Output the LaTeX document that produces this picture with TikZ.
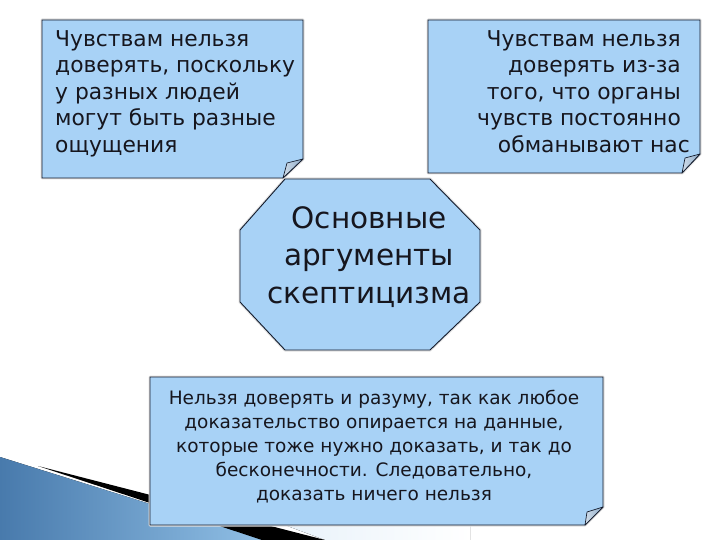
\documentclass[tikz,border=0pt]{standalone}
\usepackage{fontspec}
\setmainfont{DejaVu Sans}
\definecolor{boxblue}{RGB}{168,210,246}
\definecolor{flapblue}{RGB}{140,170,200}
\definecolor{edge}{RGB}{20,28,45}
\definecolor{ink}{RGB}{22,22,30}
\definecolor{wedgedark}{RGB}{72,122,172}
\definecolor{wedgelight}{RGB}{145,192,230}
\tikzset{
  note/.style={fill=boxblue, draw=edge, line width=0.9pt, line join=miter},
  flap/.style={left color=white!60!flapblue, right color=flapblue, draw=edge, line width=0.7pt, line join=round},
  halo/.style={draw=black!12, line width=3pt, line join=round},
  txt/.style={inner sep=0pt, text=ink},
}
\begin{document}
\begin{tikzpicture}[x=1pt,y=-1pt]
\useasboundingbox (0,0) rectangle (720,540);
\fill[white] (0,0) rectangle (720,540);
% decoration bottom-left
\fill[left color=white!75!wedgelight, right color=white] (250,512) -- (470,512) -- (470,540) -- (325,540) -- cycle;
\fill[shading angle=60, left color=wedgedark, right color=wedgelight] (0,457) -- (265,540) -- (0,540) -- cycle;
\fill[black] (38,466) -- (325,540) -- (262,540) -- cycle;
% box 1
\draw[halo] (42,20) -- (303,20) -- (303,159) -- (283,178) -- (42,178) -- cycle;
\draw[note] (42,20) -- (303,20) -- (303,159) -- (283,178) -- (42,178) -- cycle;
% box 2
\draw[halo] (428,20) -- (700,20) -- (700,154) -- (682,173) -- (428,173) -- cycle;
\draw[note] (428,20) -- (700,20) -- (700,154) -- (682,173) -- (428,173) -- cycle;
% octagon
\draw[halo] (285,179) -- (430,179) -- (480,230) -- (480,302) -- (430,350) -- (285,350) -- (240,302) -- (240,230) -- cycle;
\draw[note] (285,179) -- (430,179) -- (480,230) -- (480,302) -- (430,350) -- (285,350) -- (240,302) -- (240,230) -- cycle;
% bottom box
\draw[halo] (150,377) -- (603,377) -- (603,507) -- (585,525) -- (150,525) -- cycle;
\draw[note] (150,377) -- (603,377) -- (603,507) -- (585,525) -- (150,525) -- cycle;
% texts
\node[txt, anchor=north west, align=left, font=\fontsize{21.8}{26.6}\selectfont] (t1) at (55,30)
  {Чувствам нельзя\\доверять, поскольку\\у разных людей\\могут быть разные\\ощущения};
\node[txt, anchor=north east, align=right, font=\fontsize{21.8}{26.6}\selectfont] (t2) at (681,30)
  {Чувствам нельзя\\доверять из-за\\того, что органы\\чувств постоянно\\обманывают нас\hspace*{-9pt}};
\node[txt, anchor=north, align=center, font=\fontsize{29.5}{37.8}\selectfont] (t3) at (369,206)
  {Основные\\аргументы\\скептицизма};
\node[txt, anchor=north, align=center, font=\fontsize{18.5}{24}\selectfont] (t4) at (374,390)
  {Нельзя доверять и разуму, так как любое\\доказательство опирается на данные,\\которые тоже нужно доказать, и так до\\бесконечности. Следовательно,\\доказать ничего нельзя};
% folded corners
\draw[flap] (303,159) -- (287,163) -- (283,178) -- cycle;
\draw[flap] (700,154) -- (685,158) -- (682,173) -- cycle;
\draw[flap] (603,507) -- (587,512) -- (585,525) -- cycle;
\end{tikzpicture}
\end{document}
